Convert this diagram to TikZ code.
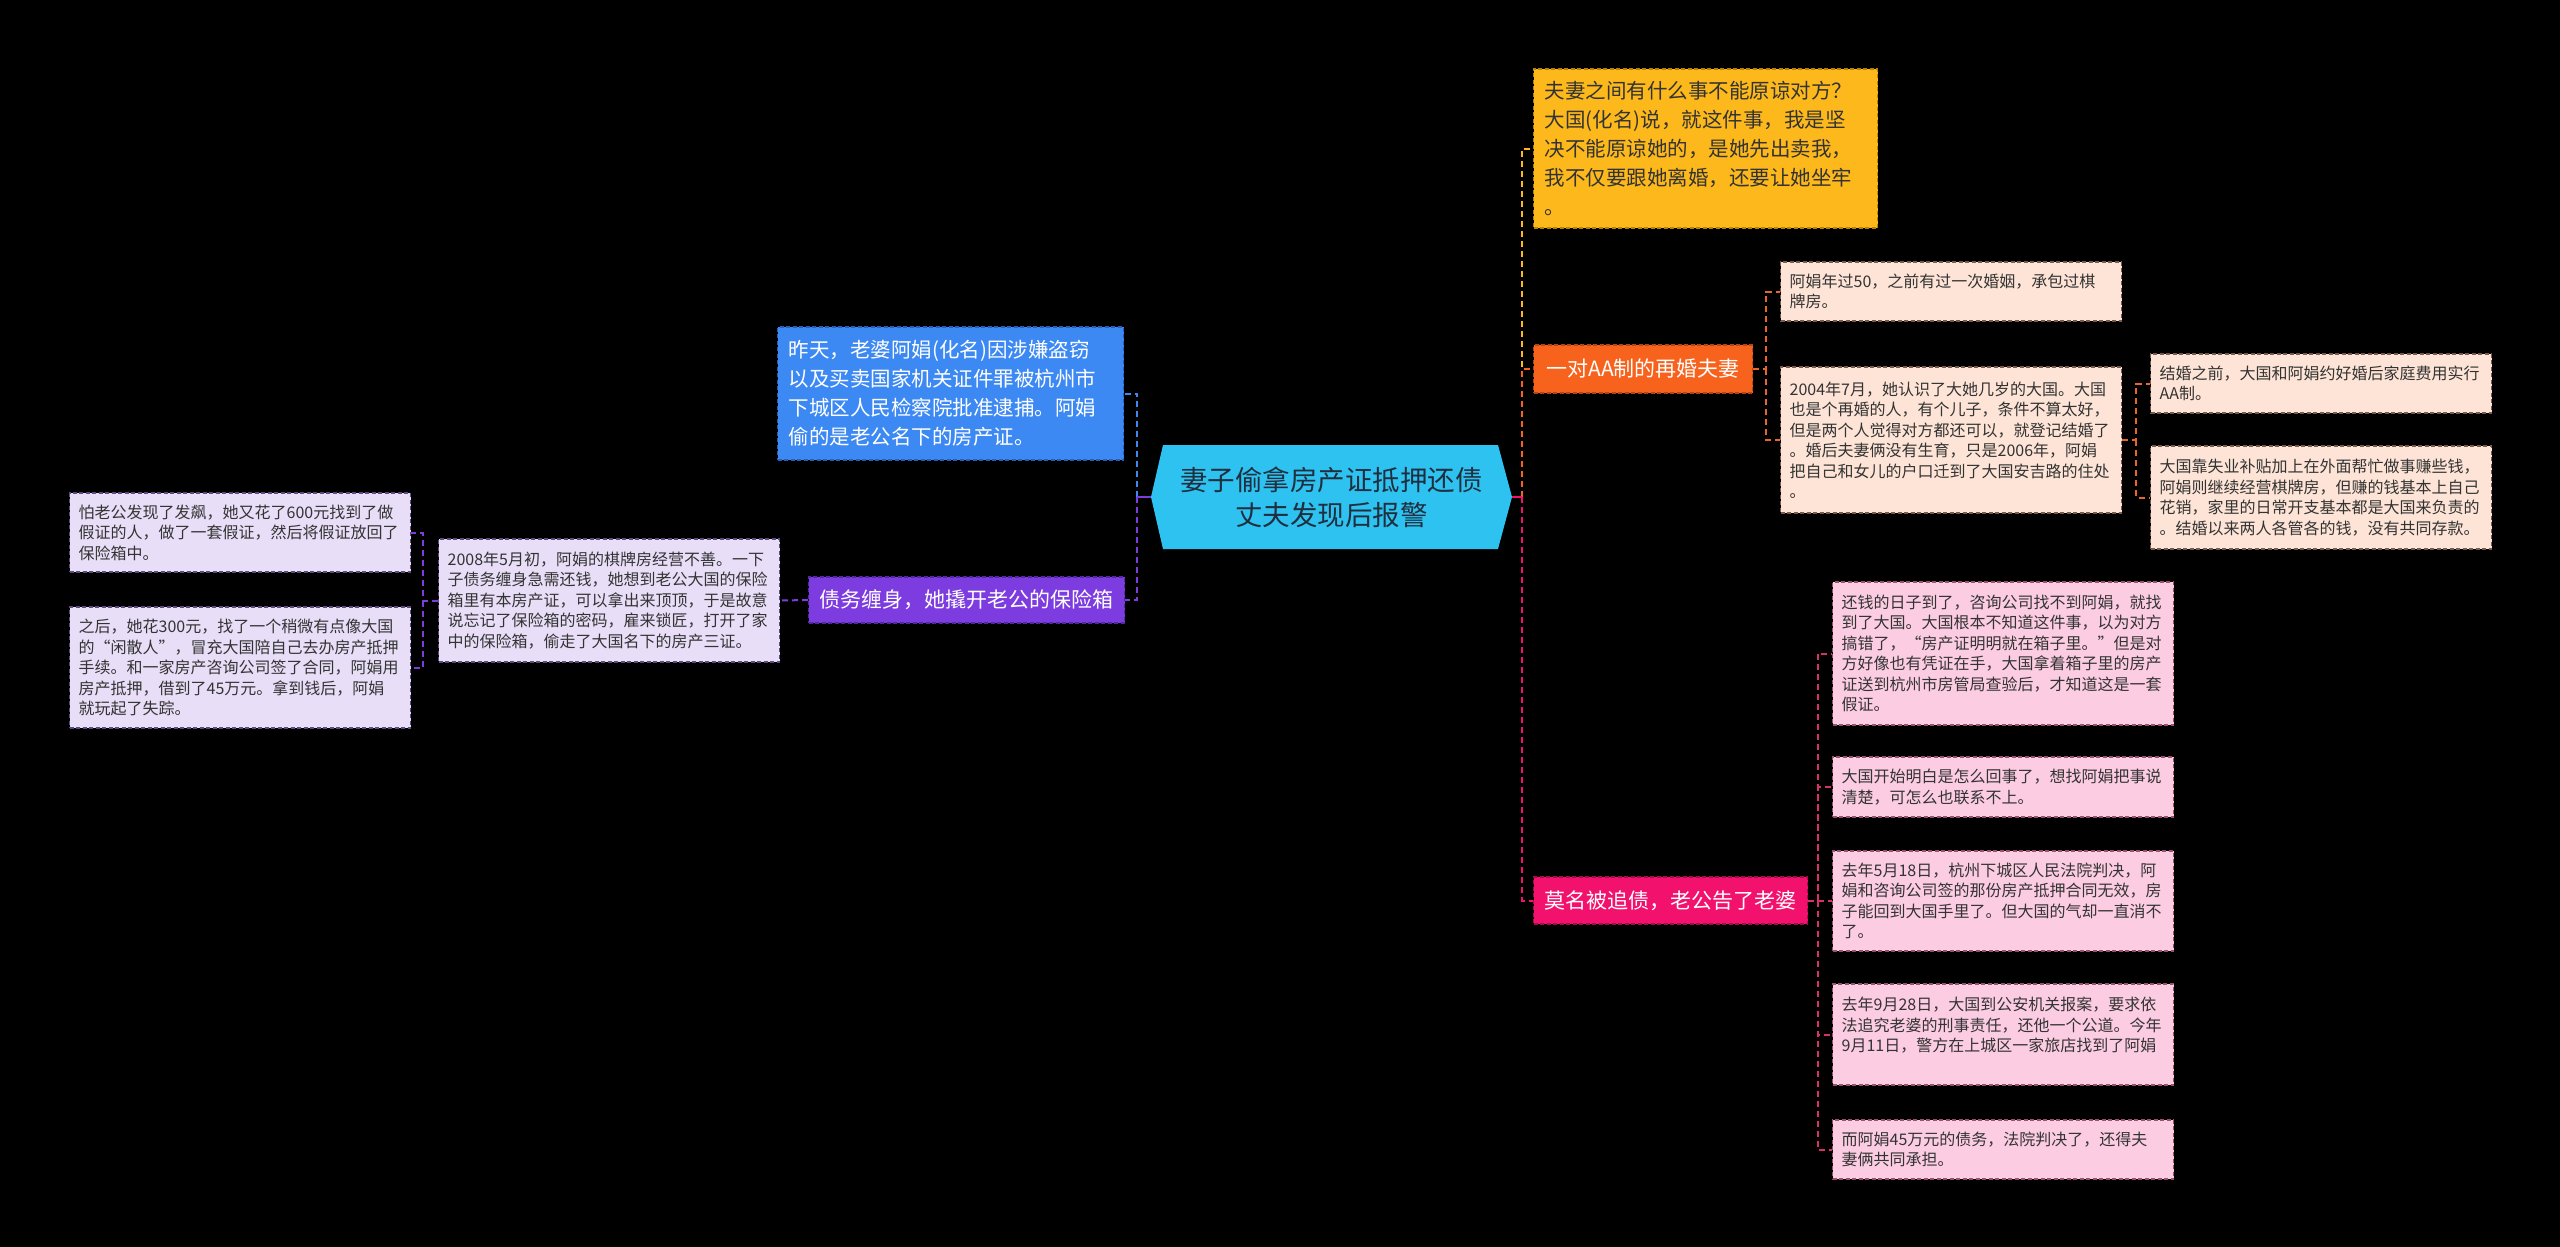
\documentclass[tikz,border=0pt]{standalone}
\usepackage{fontspec}
\setmainfont{Noto Sans CJK SC}
\usetikzlibrary{calc}
\definecolor{rootf}{HTML}{2EC2F0}
\definecolor{roott}{HTML}{1F2F3F}
\definecolor{bluef}{HTML}{3D89F3}
\definecolor{blued}{HTML}{2A5FB8}
\definecolor{purf}{HTML}{7C3CE0}
\definecolor{purd}{HTML}{5526A8}
\definecolor{lilf}{HTML}{E8DEF8}
\definecolor{lild}{HTML}{5E4C80}
\definecolor{yelf}{HTML}{FDB91B}
\definecolor{yeld}{HTML}{B88400}
\definecolor{oraf}{HTML}{F7621C}
\definecolor{orad}{HTML}{B84510}
\definecolor{peaf}{HTML}{FDE4D6}
\definecolor{pead}{HTML}{7A5A4A}
\definecolor{hotf}{HTML}{F2126E}
\definecolor{hotd}{HTML}{A80A4C}
\definecolor{pnkf}{HTML}{FCCDE2}
\definecolor{pnkd}{HTML}{9A5070}
\definecolor{txtc}{HTML}{333333}
\definecolor{oral}{HTML}{E8662A}
\definecolor{pnkl}{HTML}{D8306A}
\pgfdeclarelayer{back}
\pgfdeclarelayer{lines}
\pgfsetlayers{back,lines,main}
\begin{document}
\begin{tikzpicture}[x=1pt,y=-1pt,
  smallbox/.style={anchor=west, inner xsep=9pt, inner ysep=0pt, text width=323pt, align=left,
    font=\fontsize{16}{20.5}\selectfont, text=txtc, line width=1.3pt, dash pattern=on 4pt off 2.5pt},
  bigbox/.style={anchor=west, inner xsep=11pt, inner ysep=0pt, align=left,
    font=\fontsize{20.5}{29}\selectfont, line width=1.3pt, dash pattern=on 4pt off 2.5pt},
  branch/.style={anchor=west, inner xsep=11pt, inner ysep=0pt, align=center,
    font=\fontsize{21}{26}\selectfont, text=white, line width=1.3pt, dash pattern=on 4pt off 2.5pt},
  conn/.style={line width=2pt, dash pattern=on 6pt off 4pt},
  stem/.style={line width=2.5pt}
]
\begin{pgfonlayer}{back}
\fill[black] (0,0) rectangle (2560,1247);
\end{pgfonlayer}
\useasboundingbox (0,0) rectangle (2560,1247);

% central topic
\fill[rootf] (1163,445) -- (1498,445) -- (1512,497) -- (1498,549) -- (1163,549) -- (1151,497) -- cycle;
\node[minimum width=361pt, minimum height=104pt, inner sep=0pt, align=center, text=roott,
  font=\fontsize{27.5}{35}\selectfont] (root) at (1331.5,497) {妻子偷拿房产证抵押还债\\丈夫发现后报警};

% left side
\node[bigbox, fill=bluef, draw=blued, text=white, text width=324pt, minimum height=133pt] (blue) at (777,393.5)
  {昨天，老婆阿娟(化名)因涉嫌盗窃\\以及买卖国家机关证件罪被杭州市\\下城区人民检察院批准逮捕。阿娟\\偷的是老公名下的房产证。};
\node[branch, fill=purf, draw=purd, minimum width=315pt, minimum height=46pt] (pur) at (808,600)
  {债务缠身，她撬开老公的保险箱};
\node[smallbox, fill=lilf, draw=lild, minimum height=123pt] (lil) at (438,600.5)
  {2008年5月初，阿娟的棋牌房经营不善。一下\\子债务缠身急需还钱，她想到老公大国的保险\\箱里有本房产证，可以拿出来顶顶，于是故意\\说忘记了保险箱的密码，雇来锁匠，打开了家\\中的保险箱，偷走了大国名下的房产三证。};
\node[smallbox, fill=lilf, draw=lild, minimum height=79pt] (lef1) at (69,532.5)
  {怕老公发现了发飙，她又花了600元找到了做\\假证的人，做了一套假证，然后将假证放回了\\保险箱中。};
\node[smallbox, fill=lilf, draw=lild, minimum height=121pt] (lef2) at (69,667.5)
  {之后，她花300元，找了一个稍微有点像大国\\的“闲散人”，冒充大国陪自己去办房产抵押\\手续。和一家房产咨询公司签了合同，阿娟用\\房产抵押，借到了45万元。拿到钱后，阿娟\\就玩起了失踪。};

% right side
\node[bigbox, fill=yelf, draw=yeld, text=txtc, text width=322pt, minimum height=159pt] (yel) at (1533,148.5)
  {夫妻之间有什么事不能原谅对方？\\大国(化名)说，就这件事，我是坚\\决不能原谅她的，是她先出卖我，\\我不仅要跟她离婚，还要让她坐牢\\。};
\node[branch, fill=oraf, draw=orad, minimum width=219pt, minimum height=48pt] (ora) at (1533,369)
  {一对AA制的再婚夫妻};
\node[smallbox, fill=peaf, draw=pead, minimum height=59pt] (pea1) at (1780,291.5)
  {阿娟年过50，之前有过一次婚姻，承包过棋\\牌房。};
\node[smallbox, fill=peaf, draw=pead, minimum height=146pt] (pea2) at (1780,440)
  {2004年7月，她认识了大她几岁的大国。大国\\也是个再婚的人，有个儿子，条件不算太好，\\但是两个人觉得对方都还可以，就登记结婚了\\。婚后夫妻俩没有生育，只是2006年，阿娟\\把自己和女儿的户口迁到了大国安吉路的住处\\。};
\node[smallbox, fill=peaf, draw=pead, minimum height=59pt] (pea3) at (2150,383.5)
  {结婚之前，大国和阿娟约好婚后家庭费用实行\\AA制。};
\node[smallbox, fill=peaf, draw=pead, minimum height=103pt] (pea4) at (2150,497.5)
  {大国靠失业补贴加上在外面帮忙做事赚些钱，\\阿娟则继续经营棋牌房，但赚的钱基本上自己\\花销，家里的日常开支基本都是大国来负责的\\。结婚以来两人各管各的钱，没有共同存款。};
\node[branch, fill=hotf, draw=hotd, minimum width=271pt, minimum height=47pt] (hot) at (1533,900.5)
  {莫名被追债，老公告了老婆};
\node[smallbox, fill=pnkf, draw=pnkd, minimum height=143pt] (pnk1) at (1832,653.5)
  {还钱的日子到了，咨询公司找不到阿娟，就找\\到了大国。大国根本不知道这件事，以为对方\\搞错了，“房产证明明就在箱子里。”但是对\\方好像也有凭证在手，大国拿着箱子里的房产\\证送到杭州市房管局查验后，才知道这是一套\\假证。};
\node[smallbox, fill=pnkf, draw=pnkd, minimum height=60pt] (pnk2) at (1832,787)
  {大国开始明白是怎么回事了，想找阿娟把事说\\清楚，可怎么也联系不上。};
\node[smallbox, fill=pnkf, draw=pnkd, minimum height=100pt] (pnk3) at (1832,901)
  {去年5月18日，杭州下城区人民法院判决，阿\\娟和咨询公司签的那份房产抵押合同无效，房\\子能回到大国手里了。但大国的气却一直消不\\了。};
\node[smallbox, fill=pnkf, draw=pnkd, minimum height=101pt] (pnk4) at (1832,1034.5)
  {去年9月28日，大国到公安机关报案，要求依\\法追究老婆的刑事责任，还他一个公道。今年\\9月11日，警方在上城区一家旅店找到了阿娟\\\mbox{}};
\node[smallbox, fill=pnkf, draw=pnkd, minimum height=59pt] (pnk5) at (1832,1149.5)
  {而阿娟45万元的债务，法院判决了，还得夫\\妻俩共同承担。};

% junctions
\coordinate (jL) at (1137,497);
\coordinate (jR) at (1522,497);
\coordinate (jLL) at (423,600.5);
\coordinate (jO) at (1766,369);
\coordinate (jP) at (2136,440);
\coordinate (jK) at (1818,900.5);

\begin{pgfonlayer}{lines}
% left
\draw[conn, bluef] (jL) |- (blue.east);
\draw[conn, purf] (jL) |- (pur.east);
\draw[stem, purf] (root.west) -- (jL);
\draw[conn, purf] (pur.west) -- (lil.east);
\draw[conn, purf] (lil.west) -- (jLL) |- (lef1.east);
\draw[conn, purf] (jLL) |- (lef2.east);
% right
\draw[conn, yelf] (jR) |- (yel.west);
\draw[conn, oraf] (jR) |- (ora.west);
\draw[conn, hotf] (jR) |- (hot.west);
\draw[stem, hotf] (root.east) -- (jR);
\draw[conn, oral] (ora.east) -- (jO) |- (pea1.west);
\draw[conn, oral] (jO) |- (pea2.west);
\draw[conn, oral] (pea2.east) -- (jP) |- (pea3.west);
\draw[conn, oral] (jP) |- (pea4.west);
\draw[conn, pnkl] (hot.east) -- (jK) |- (pnk1.west);
\draw[conn, pnkl] (jK) |- (pnk2.west);
\draw[conn, pnkl] (jK) |- (pnk3.west);
\draw[conn, pnkl] (jK) |- (pnk4.west);
\draw[conn, pnkl] (jK) |- (pnk5.west);
\end{pgfonlayer}
\end{tikzpicture}
\end{document}
